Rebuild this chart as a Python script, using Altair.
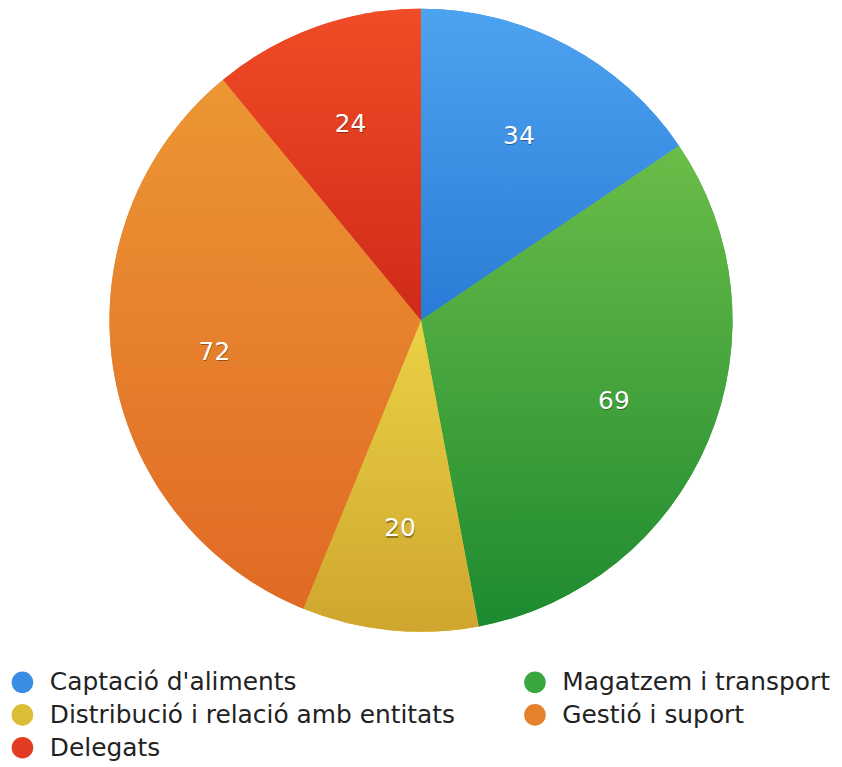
import altair as alt
import pandas as pd

categories = ["Captació d'aliments", "Magatzem i transport", "Distribució i relació amb entitats", "Gestió i suport", "Delegats"]
values = [34, 69, 20, 72, 24]
color_mid = ["#3a8de2", "#3aa640", "#dcbd36", "#e6802b", "#e23d22"]
color_top = ["#4ea3f0", "#6cbd48", "#ead245", "#ec9634", "#f04c26"]
color_bottom = ["#2a7bd6", "#1d8a30", "#cfa62e", "#e06a24", "#cf2a18"]
# legend is filled column by column: left column first, then right column
legend_order = [0, 2, 4, 1, 3]

df = pd.DataFrame({"category": categories, "value": values, "order": list(range(len(values)))})
total = sum(values)

R = 313
base = (
    alt.Chart(df)
    .transform_window(cum="sum(value)", sort=[alt.SortField("order")], frame=[None, 0])
    .transform_calculate(start="datum.cum - datum.value", mid="datum.cum - datum.value / 2")
)
theta_scale = alt.Scale(domain=[0, total], zero=True)

solid = base.mark_arc(radius=R, stroke=None).encode(
    theta=alt.Theta("start:Q", scale=theta_scale),
    theta2="cum:Q",
    color=alt.Color(
        "category:N",
        scale=alt.Scale(
            domain=[categories[i] for i in legend_order],
            range=[color_mid[i] for i in legend_order],
        ),
        legend=alt.Legend(
            title=None,
            orient="none",
            legendX=2,
            legendY=663,
            columns=2,
            columnPadding=67,
            rowPadding=7,
            symbolType="circle",
            symbolSize=470,
            symbolStrokeWidth=0,
            labelFont="DejaVu Sans",
            labelFontSize=25,
            labelColor="#222222",
            labelOffset=15,
            labelLimit=700,
            padding=0,
        ),
    ),
)

layers = [solid]
for i, cat in enumerate(categories):
    grad = alt.Gradient(
        gradient="linear",
        stops=[alt.GradientStop(color=color_top[i], offset=0), alt.GradientStop(color=color_bottom[i], offset=1)],
        x1=0, x2=0, y1=0, y2=1,
    )
    layers.append(
        base.transform_filter(alt.datum.category == cat)
        .mark_arc(radius=R, fill=grad, stroke=None)
        .encode(theta=alt.Theta("start:Q", scale=theta_scale), theta2="cum:Q")
    )

shadow = base.mark_text(radius=210, font="DejaVu Sans", fontSize=25, color="#000000", opacity=0.35, dy=1.5, dx=0.5).encode(
    theta=alt.Theta("mid:Q", scale=theta_scale), text="value:Q"
)
labels = base.mark_text(radius=210, font="DejaVu Sans", fontSize=25, color="#ffffff").encode(
    theta=alt.Theta("mid:Q", scale=theta_scale), text="value:Q"
)
layers += [shadow, labels]

chart = (
    alt.layer(*layers)
    .properties(
        width=830,
        height=624,
        padding={"left": 0, "top": 0, "right": 0, "bottom": 130},
        autosize=alt.AutoSizeParams(type="none"),
    )
    .configure_view(stroke=None)
    .configure(background="#ffffff")
)
chart.save("out.html", embed_options={"renderer": "svg", "actions": False})
